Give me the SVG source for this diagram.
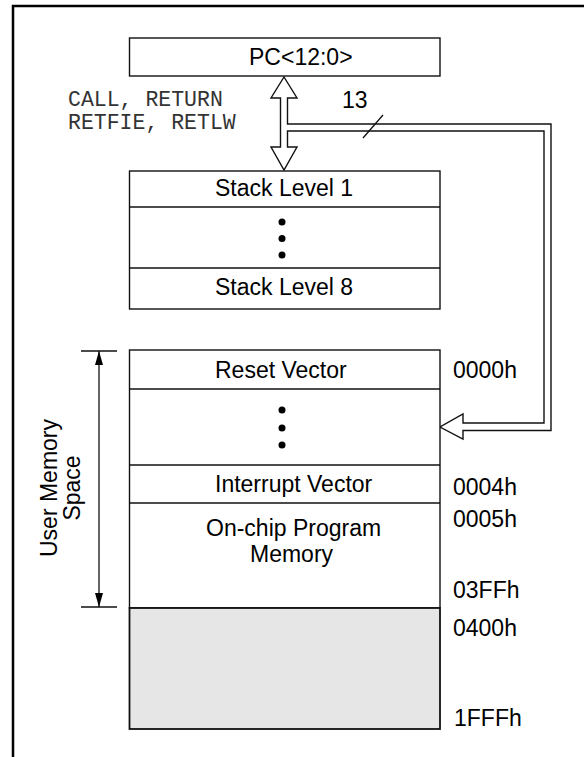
<svg xmlns="http://www.w3.org/2000/svg" width="584" height="757" viewBox="0 0 584 757">
<style>
.box{fill:#fff;stroke:#111;stroke-width:1.4}
.sep{stroke:#111;stroke-width:1.4}
.t{font-family:"Liberation Sans",Arial,sans-serif;font-size:23px;fill:#000}
.c{text-anchor:middle}
.mono{font-family:"Liberation Mono","Courier New",monospace;font-size:21.5px;fill:#333}
.dot{fill:#000}
</style>
<defs>
<marker id="ah" markerWidth="14" markerHeight="8" refX="14" refY="4" orient="auto-start-reverse" markerUnits="userSpaceOnUse" viewBox="0 0 14 8">
<path d="M0,0 L14,4 L0,8 Z" fill="#000"/>
</marker>
</defs>
<rect x="0" y="0" width="584" height="757" fill="#fff"/>
<rect x="13" y="6" width="620" height="800" fill="none" stroke="#000" stroke-width="2.5"/>

<g id="connectors">
<path d="M284,77 L297,98 L287.5,98 L287.5,124 L551,124 L551,430.5 L463,430.5 L463,439 L440,427 L463,414 L463,423 L544,423 L544,131 L287.5,131 L287.5,147 L297,147 L284,170 L271,147 L280.5,147 L280.5,98 L271,98 Z" fill="#fff" stroke="#111" stroke-width="1.4" stroke-linejoin="miter"/>
<line x1="363" y1="138" x2="383" y2="115" stroke="#111" stroke-width="1.3"/>
<text class="t" x="342" y="108">13</text>
<text class="mono" x="68" y="106">CALL, RETURN</text>
<text class="mono" x="68" y="129">RETFIE, RETLW</text>
</g>

<g id="pc">
<rect class="box" x="129.5" y="38" width="310.5" height="38"/>
<text class="t" x="249" y="65">PC&lt;12:0&gt;</text>
</g>

<g id="stack">
<rect class="box" x="129.5" y="171" width="310.5" height="138"/>
<line class="sep" x1="129.5" y1="207" x2="440" y2="207"/>
<line class="sep" x1="129.5" y1="268" x2="440" y2="268"/>
<text class="t" x="215" y="196">Stack Level 1</text>
<circle class="dot" cx="282" cy="222" r="3.5"/>
<circle class="dot" cx="282" cy="238.5" r="3.5"/>
<circle class="dot" cx="282" cy="255" r="3.5"/>
<text class="t" x="215" y="295">Stack Level 8</text>
</g>

<g id="memory">
<rect class="box" x="129.5" y="350" width="310.5" height="258"/>
<rect x="129.5" y="608" width="310.5" height="121" fill="#e6e6e6" stroke="#111" stroke-width="1.8"/>
<line class="sep" x1="129.5" y1="389" x2="440" y2="389"/>
<line class="sep" x1="129.5" y1="465" x2="440" y2="465"/>
<line class="sep" x1="129.5" y1="503" x2="440" y2="503"/>
<text class="t" x="215" y="378">Reset Vector</text>
<circle class="dot" cx="282" cy="410" r="3.5"/>
<circle class="dot" cx="282" cy="428" r="3.5"/>
<circle class="dot" cx="282" cy="445" r="3.5"/>
<text class="t" x="215" y="492">Interrupt Vector</text>
<text class="t" x="206" y="536">On-chip Program</text>
<text class="t" x="250" y="562">Memory</text>
</g>

<g id="addresses">
<text class="t" x="453" y="378">0000h</text>
<text class="t" x="453" y="495">0004h</text>
<text class="t" x="453" y="527">0005h</text>
<text class="t" x="453" y="598">03FFh</text>
<text class="t" x="453" y="636">0400h</text>
<text class="t" x="454" y="726">1FFFh</text>
</g>

<g id="user-space">
<line x1="81" y1="351" x2="117" y2="351" stroke="#111" stroke-width="1.3"/>
<line x1="81" y1="607" x2="117" y2="607" stroke="#111" stroke-width="1.3"/>
<line x1="99" y1="351" x2="99" y2="607" stroke="#111" stroke-width="1.3" marker-start="url(#ah)" marker-end="url(#ah)"/>
<text class="t c" transform="translate(57,488) rotate(-90)">User Memory</text>
<text class="t c" transform="translate(80,488) rotate(-90)">Space</text>
</g>
</svg>
